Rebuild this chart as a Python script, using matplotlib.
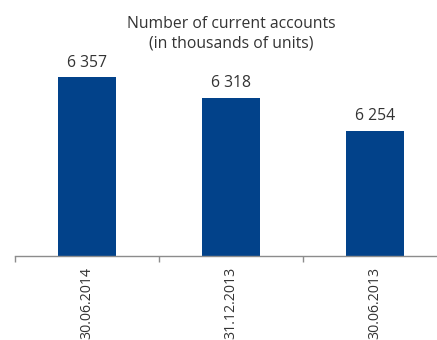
import matplotlib
matplotlib.use("Agg")
import matplotlib.pyplot as plt

dates = ["30.06.2014", "31.12.2013", "30.06.2013"]
accounts = [6357, 6318, 6254]
value_labels = ["6 357", "6 318", "6 254"]

bar_color = "#02428A"
text_color = "#333333"
axis_color = "#8c8c8c"

plt.rcParams["font.family"] = ["Open Sans", "DejaVu Sans"]

fig = plt.figure(figsize=(4.37, 3.40), dpi=100)
W, H = 437, 340
left, right, bottom, top = 15, 447, 256, 55
ax = fig.add_axes([left / W, 1 - bottom / H, (right - left) / W, (bottom - top) / H])

x = range(len(dates))
ax.bar(x, accounts, width=0.40, color=bar_color)
ax.set_xlim(-0.5, 2.5)
ax.set_ylim(6015, 6400)

for xi, v, lab in zip(x, accounts, value_labels):
    ax.annotate(lab, (xi, v), xytext=(0, 5), textcoords="offset points",
                ha="center", va="bottom", fontsize=11.3, color=text_color)

for s in ["top", "left", "right"]:
    ax.spines[s].set_visible(False)
ax.spines["bottom"].set_color(axis_color)
ax.spines["bottom"].set_linewidth(1.0)
ax.set_yticks([])

ax.set_xticks(list(x))
ax.set_xticklabels(dates, rotation=90, fontsize=10.2, color=text_color)
ax.tick_params(axis="x", which="major", length=0, pad=8)
ax.set_xticks([-0.5, 0.5, 1.5, 2.5], minor=True)
ax.tick_params(axis="x", which="minor", length=4, width=1, color=axis_color, direction="out")

fig.text(231 / W, 1 - 34 / H, "Number of current accounts\n(in thousands of units)",
         ha="center", va="center", fontsize=11.3, color=text_color, linespacing=1.25)

fig.savefig("out.png", dpi=100)
